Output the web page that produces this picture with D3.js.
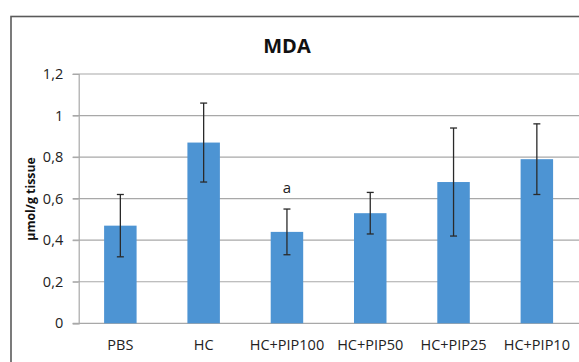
<!DOCTYPE html>
<html><head><meta charset="utf-8">
<script src="https://cdn.jsdelivr.net/npm/d3@7"></script>
<style>body{margin:0;background:#fff}svg{display:block}</style>
</head><body>
<svg id="c" width="579" height="362"></svg>
<script>
const categories = ["PBS","HC","HC+PIP100","HC+PIP50","HC+PIP25","HC+PIP10"];
const means = [0.47,0.87,0.44,0.53,0.68,0.79];
const errHigh = [0.62,1.06,0.55,0.63,0.94,0.96];
const errLow = [0.32,0.68,0.33,0.43,0.42,0.62];
const annotations = ["","","a","","",""];
const yTicks = [0,0.2,0.4,0.6,0.8,1,1.2];
const tickLabels = ["0","0,2","0,4","0,6","0,8","1","1,2"];

(function(){
const svg = d3.select("#c");
const font = "'Open Sans', sans-serif";
const pl = 78.7, pr = 578.5, pt = 74, pb = 323.3;

svg.append("rect").attr("x",11).attr("y",16.5).attr("width",700).attr("height",500)
  .attr("fill","none").attr("stroke","#5a5a5a").attr("stroke-width",1.6);

const x = d3.scaleBand().domain(categories).range([pl,pr]).paddingInner(0.61).paddingOuter(0.305);
const y = d3.scaleLinear().domain([0,1.2]).range([pb,pt]);

svg.append("g").selectAll("line").data(yTicks).join("line")
  .attr("x1",pl-6).attr("x2",pr+5).attr("y1",d=>y(d)).attr("y2",d=>y(d))
  .attr("stroke","#a8a8a8").attr("stroke-width",1.2);

const yAxis = svg.append("g").attr("transform",`translate(${pl},0)`)
  .call(d3.axisLeft(y).tickValues(yTicks).tickFormat((d,i)=>tickLabels[i]).tickSize(6).tickPadding(9.5));
yAxis.select(".domain").attr("stroke","#a8a8a8").attr("stroke-width",1.2);
yAxis.selectAll(".tick line").attr("stroke","#a8a8a8");
yAxis.selectAll("text").attr("font-family",font).attr("font-size",14.5).attr("fill","#222");

svg.append("g").selectAll("rect").data(categories).join("rect")
  .attr("x",d=>x(d)).attr("width",x.bandwidth())
  .attr("y",(d,i)=>y(means[i])).attr("height",(d,i)=>y(0)-y(means[i]))
  .attr("fill","#4d94d3");

const eb = svg.append("g").attr("stroke","#2a2a2a").attr("stroke-width",1.3);
categories.forEach((c,i)=>{
  const cx = x(c)+x.bandwidth()/2;
  eb.append("line").attr("x1",cx).attr("x2",cx).attr("y1",y(errHigh[i])).attr("y2",y(errLow[i]));
  eb.append("line").attr("x1",cx-3.5).attr("x2",cx+3.5).attr("y1",y(errHigh[i])).attr("y2",y(errHigh[i]));
  eb.append("line").attr("x1",cx-3.5).attr("x2",cx+3.5).attr("y1",y(errLow[i])).attr("y2",y(errLow[i]));
  if(annotations[i]) svg.append("text").attr("x",cx).attr("y",y(errHigh[i])-16)
    .attr("text-anchor","middle").attr("font-family",font).attr("font-size",15).attr("fill","#222").text(annotations[i]);
});

const xAxis = svg.append("g").attr("transform",`translate(0,${pb})`)
  .call(d3.axisBottom(x).tickSize(0).tickPadding(16.4));
xAxis.select(".domain").remove();
xAxis.selectAll("text").attr("font-family",font).attr("font-size",14.5).attr("fill","#222");

svg.append("text").attr("x",287).attr("y",53).attr("text-anchor","middle")
  .attr("font-family",font).attr("font-weight","bold").attr("font-size",20).attr("fill","#111").text("MDA");

svg.append("text").attr("transform","translate(34.5,199) rotate(-90)").attr("text-anchor","middle")
  .attr("font-family",font).attr("font-weight","bold").attr("font-size",12.3).attr("fill","#111").text("µmol/g tissue");
})();
</script>
</body></html>
